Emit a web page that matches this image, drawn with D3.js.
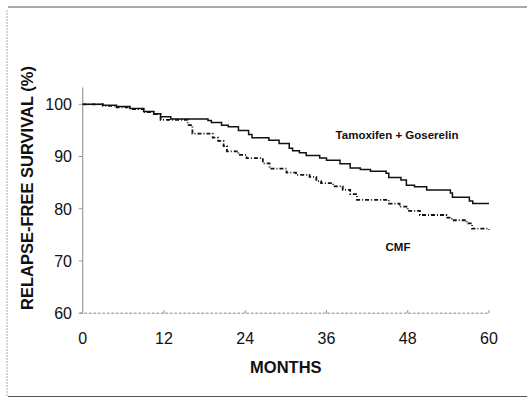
<!DOCTYPE html>
<html>
<head>
<meta charset="utf-8">
<script src="https://cdn.jsdelivr.net/npm/d3@7"></script>
<style>
  body { margin: 0; background: #fff; }
  text { font-family: "Liberation Sans", Arial, sans-serif; fill: #111; }
</style>
</head>
<body>
<svg id="chart" width="527" height="398"></svg>
<script>
// data (months, relapse-free survival %)
const tamMonths = [0, 3, 5, 7, 9, 10.5, 11.5, 13, 18.5, 19, 20.5, 21.5, 23, 24.5, 25, 27.5, 29, 30.5, 31, 32, 33, 35, 36, 38, 39.5, 41, 42.5, 44.8, 45.2, 47, 47.8, 49, 50.8, 54.3, 54.6, 57.1, 57.6, 60];
const tamValues = [100, 99.8, 99.6, 99.2, 98.6, 98.2, 97.6, 97.2, 96.9, 96.5, 96, 95.7, 95, 94.2, 93.6, 93.1, 92.5, 91.6, 91.1, 90.7, 90.2, 89.7, 89.3, 88.6, 87.8, 87.5, 87.2, 86.8, 86, 85.5, 84.5, 84.2, 83.6, 83.0, 82.2, 81.5, 81, 81];
const cmfMonths = [0, 3, 5, 7, 9, 10.5, 11.5, 15.5, 16.2, 19.2, 20, 20.8, 21.3, 23, 24.2, 26.6, 27.6, 30.1, 31.5, 33.5, 34.5, 35.2, 37, 38.4, 39.5, 40.5, 45.2, 46.8, 48, 49.8, 53.7, 54.5, 56.7, 57.5, 60];
const cmfValues = [100, 99.7, 99.4, 99.1, 98.5, 98.1, 97, 96, 94.4, 93.6, 93, 92, 91, 90.3, 89.7, 88.7, 87.7, 86.9, 86.5, 86.1, 85.3, 84.9, 84.3, 83.6, 82.8, 81.7, 81.0, 80.4, 79.6, 78.8, 78.3, 77.8, 77.2, 76.2, 76];
const xTicks = [0, 12, 24, 36, 48, 60];
const yTicks = [60, 70, 80, 90, 100];

const svg = d3.select("#chart");

// outer frame bits
svg.append("line").attr("x1", 8).attr("x2", 527).attr("y1", 7).attr("y2", 7)
  .attr("stroke", "#555").attr("stroke-width", 1.2);
svg.append("line").attr("x1", 8).attr("x2", 527).attr("y1", 396.5).attr("y2", 396.5)
  .attr("stroke", "#555").attr("stroke-width", 1.2);
svg.append("line").attr("x1", 7).attr("x2", 7).attr("y1", 10).attr("y2", 396)
  .attr("stroke", "#aaa").attr("stroke-dasharray", "2,1");

const x = d3.scaleLinear().domain([0, 60]).range([82.7, 489]);
const y = d3.scaleLinear().domain([60, 100]).range([313.2, 104.3]);

// y axis line + ticks
svg.append("line").attr("x1", x(0)).attr("x2", x(0)).attr("y1", y(103.2)).attr("y2", y(60))
  .attr("stroke", "#999").attr("stroke-width", 1.2);
svg.append("g").selectAll("line").data(yTicks).join("line")
  .attr("x1", x(0) - 4).attr("x2", x(0))
  .attr("y1", d => y(d)).attr("y2", d => y(d))
  .attr("stroke", "#999");
svg.append("g").selectAll("text").data(yTicks).join("text")
  .attr("x", 72).attr("y", d => y(d)).attr("dy", "0.36em")
  .attr("text-anchor", "end").style("font-size", "16px").text(d => d);

// x axis (dashed) + ticks
svg.append("line").attr("x1", x(0) - 3).attr("x2", x(60)).attr("y1", y(60)).attr("y2", y(60))
  .attr("stroke", "#888").attr("stroke-dasharray", "3,1.5");
svg.append("g").selectAll("line").data(xTicks.slice(1)).join("line")
  .attr("x1", d => x(d)).attr("x2", d => x(d))
  .attr("y1", y(60)).attr("y2", y(60) - 3)
  .attr("stroke", "#888");
svg.append("g").selectAll("text").data(xTicks).join("text")
  .attr("x", d => x(d)).attr("y", 338).attr("dy", "0.36em")
  .attr("text-anchor", "middle").style("font-size", "16px").text(d => d);

// axis titles
svg.append("text").attr("x", x(30)).attr("y", 367).attr("dy", "0.36em")
  .attr("text-anchor", "middle").style("font-size", "16.5px").style("font-weight", "bold")
  .text("MONTHS");
svg.append("text").attr("transform", "translate(27,188) rotate(-90)").attr("dy", "0.36em")
  .attr("text-anchor", "middle").style("font-size", "16.5px").style("font-weight", "bold")
  .text("RELAPSE-FREE SURVIVAL (%)");

// survival curves
const line = d3.line().x(d => x(d[0])).y(d => y(d[1])).curve(d3.curveStepAfter);
svg.append("path").datum(d3.zip(cmfMonths, cmfValues))
  .attr("d", line).attr("fill", "none").attr("stroke", "#111")
  .attr("stroke-width", 1.8).attr("stroke-dasharray", "4,2,1,2");
svg.append("path").datum(d3.zip(tamMonths, tamValues))
  .attr("d", line).attr("fill", "none").attr("stroke", "#111")
  .attr("stroke-width", 1.5);

// curve labels
svg.append("text").attr("x", 397).attr("y", 135).attr("dy", "0.36em")
  .attr("text-anchor", "middle").style("font-size", "11.5px").style("font-weight", "bold")
  .text("Tamoxifen + Goserelin");
svg.append("text").attr("x", 398).attr("y", 247).attr("dy", "0.36em")
  .attr("text-anchor", "middle").style("font-size", "11.5px").style("font-weight", "bold")
  .text("CMF");
</script>
</body>
</html>
